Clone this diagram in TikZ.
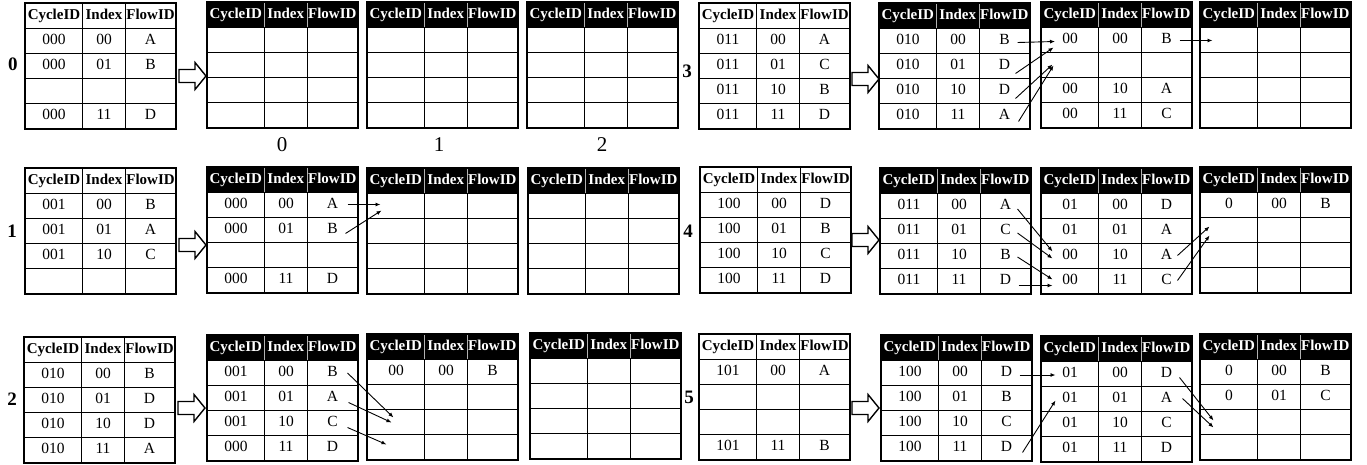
\documentclass[tikz,border=0pt]{standalone}
\usepackage{fontspec}
\setmainfont{Liberation Serif}
\usetikzlibrary{calc,arrows.meta}

\newcommand\hfont{\fontsize{15}{18}\selectfont\bfseries}
\newcommand\bfont{\fontsize{15.5}{18}\selectfont}

\tikzset{
  cellbase/.style={minimum height=25pt, inner sep=0pt, text height=10.5pt, text depth=3pt},
  hdrin/.style={cellbase, draw=black, line width=1pt, font=\hfont, text=black},
  hdrout/.style={cellbase, fill=black, draw=gray!60, line width=0.6pt, font=\hfont, text=white},
  tcell/.style={cellbase, draw=black, line width=1pt, font=\bfont},
  tframe/.style={draw=black, line width=1.3pt},
  blockarr/.style={draw=black, fill=white, line width=1.4pt, line join=miter},
  conn/.style={-{Latex[length=5pt,width=4pt]}, line width=0.9pt},
  sidelbl/.style={font=\fontsize{19}{22}\selectfont\bfseries, inner sep=0pt},
  botlbl/.style={font=\fontsize{21}{24}\selectfont, inner sep=0pt}
}

% a 3-column table: name, left x, top y, header kind (in|out), body rows r/cycle/index/flow
\newcommand\drawtable[5]{%
  \begin{scope}[shift={(#2,#3)}]
    \node[hdr#4, minimum width=57pt, anchor=north west] (#1-0-1) at (0,0) {CycleID};
    \node[hdr#4, minimum width=43pt, anchor=north west] (#1-0-2) at (57,0) {Index};
    \node[hdr#4, minimum width=50pt, anchor=north west] (#1-0-3) at (100,0) {FlowID};
    \foreach \r/\a/\b/\c in {#5} {
      \node[tcell, minimum width=57pt, anchor=north west] (#1-\r-1) at (0,25*\r) {\a};
      \node[tcell, minimum width=43pt, anchor=north west] (#1-\r-2) at (57,25*\r) {\b};
      \node[tcell, minimum width=50pt, anchor=north west] (#1-\r-3) at (100,25*\r) {\c};
    }
    \draw[tframe] (#1-0-1.north west) rectangle (#1-4-3.south east);
  \end{scope}%
}

% hollow block arrow: left x, centre y
\newcommand\hollowarrow[2]{%
  \draw[blockarr] (#1,#2-6.5) -- ++(16,0) -- ++(0,-7) -- (#1+27,#2)
    -- (#1+16,#2+13.5) -- ++(0,-7) -- (#1,#2+6.5) -- cycle;
}

\begin{document}
\begin{tikzpicture}[x=1pt,y=-1pt]
\path[use as bounding box, fill=white] (0,0) rectangle (1367,465);

% ---------- step 0 ----------
\node[sidelbl] (s0) at (13,64) {0};
\drawtable{p0in}{25}{3}{in}{1/000/00/A, 2/000/01/B, 3/{}/{}/{}, 4/000/11/D}
\hollowarrow{179}{76}
\drawtable{p0a}{207}{2}{out}{1/{}/{}/{}, 2/{}/{}/{}, 3/{}/{}/{}, 4/{}/{}/{}}
\drawtable{p0b}{367}{2}{out}{1/{}/{}/{}, 2/{}/{}/{}, 3/{}/{}/{}, 4/{}/{}/{}}
\drawtable{p0c}{527}{2}{out}{1/{}/{}/{}, 2/{}/{}/{}, 3/{}/{}/{}, 4/{}/{}/{}}
\node[botlbl] (b0) at (282,145) {0};
\node[botlbl] (b1) at (439,145) {1};
\node[botlbl] (b2) at (602,145) {2};

% ---------- step 3 ----------
\node[sidelbl] (s3) at (687,71) {3};
\drawtable{p3in}{699}{3}{in}{1/011/00/A, 2/011/01/C, 3/011/10/B, 4/011/11/D}
\hollowarrow{852}{79}
\drawtable{p3a}{879}{3}{out}{1/010/00/B, 2/010/01/D, 3/010/10/D, 4/010/11/A}
\drawtable{p3b}{1041}{2}{out}{1/00/00/B, 2/{}/{}/{}, 3/00/10/A, 4/00/11/C}
\drawtable{p3c}{1200}{2}{out}{1/{}/{}/{}, 2/{}/{}/{}, 3/{}/{}/{}, 4/{}/{}/{}}

% ---------- step 1 ----------
\node[sidelbl] (s1) at (12,231) {1};
\drawtable{p1in}{25}{168}{in}{1/001/00/B, 2/001/01/A, 3/001/10/C, 4/{}/{}/{}}
\hollowarrow{179}{245}
\drawtable{p1a}{207}{167}{out}{1/000/00/A, 2/000/01/B, 3/{}/{}/{}, 4/000/11/D}
\drawtable{p1b}{367}{168}{out}{1/{}/{}/{}, 2/{}/{}/{}, 3/{}/{}/{}, 4/{}/{}/{}}
\drawtable{p1c}{528}{168}{out}{1/{}/{}/{}, 2/{}/{}/{}, 3/{}/{}/{}, 4/{}/{}/{}}

% ---------- step 4 ----------
\node[sidelbl] (s4) at (688,231) {4};
\drawtable{p4in}{700}{167}{in}{1/100/00/D, 2/100/01/B, 3/100/10/C, 4/100/11/D}
\hollowarrow{852}{240}
\drawtable{p4a}{880}{168}{out}{1/011/00/A, 2/011/01/C, 3/011/10/B, 4/011/11/D}
\drawtable{p4b}{1041}{168}{out}{1/01/00/D, 2/01/01/A, 3/00/10/A, 4/00/11/C}
\drawtable{p4c}{1200}{167}{out}{1/0/00/B, 2/{}/{}/{}, 3/{}/{}/{}, 4/{}/{}/{}}

% ---------- step 2 ----------
\node[sidelbl] (s2) at (12,399) {2};
\drawtable{p2in}{24}{337}{in}{1/010/00/B, 2/010/01/D, 3/010/10/D, 4/010/11/A}
\hollowarrow{178}{408}
\drawtable{p2a}{207}{335}{out}{1/001/00/B, 2/001/01/A, 3/001/10/C, 4/000/11/D}
\drawtable{p2b}{367}{334}{out}{1/00/00/B, 2/{}/{}/{}, 3/{}/{}/{}, 4/{}/{}/{}}
\drawtable{p2c}{530}{333}{out}{1/{}/{}/{}, 2/{}/{}/{}, 3/{}/{}/{}, 4/{}/{}/{}}

% ---------- step 5 ----------
\node[sidelbl] (s5) at (689,397) {5};
\drawtable{p5in}{699}{334}{in}{1/101/00/A, 2/{}/{}/{}, 3/{}/{}/{}, 4/101/11/B}
\hollowarrow{852}{408}
\drawtable{p5a}{881}{335}{out}{1/100/00/D, 2/100/01/B, 3/100/10/C, 4/100/11/D}
\drawtable{p5b}{1041}{336}{out}{1/01/00/D, 2/01/01/A, 3/01/10/C, 4/01/11/D}
\drawtable{p5c}{1200}{334}{out}{1/0/00/B, 2/0/01/C, 3/{}/{}/{}, 4/{}/{}/{}}

% ---------- moves between tables ----------
% step 3
\draw[conn] ($(p3a-1-3.center)+(13,1.5)$) -- ($(p3b-1-1.center)+(-15,1.5)$);
\draw[conn] ($(p3a-2-3.center)+(11,7.5)$) -- ($(p3b-1-1.center)+(-16.5,7.5)$);
\draw[conn] ($(p3a-3-3.center)+(11,7.5)$) -- ($(p3b-2-1.center)+(-17.5,-0.5)$);
\draw[conn] ($(p3a-4-3.center)+(14,5.5)$) -- ($(p3b-2-1.center)+(-16.5,0.5)$);
\draw[conn] ($(p3b-1-3.center)+(13,0.5)$) -- ($(p3c-1-1.center)+(-16.5,0.5)$);
% step 1
\draw[conn] ($(p1a-1-3.center)+(15,-0.5)$) -- ($(p1b-1-1.center)+(-15.5,-1.5)$);
\draw[conn] ($(p1a-2-3.center)+(13,3.5)$) -- ($(p1b-1-1.center)+(-14.5,4.5)$);
% step 4
\draw[conn] ($(p4a-1-3.center)+(12,3)$) -- ($(p4b-3-1.center)+(-17.5,-4.5)$);
\draw[conn] ($(p4a-2-3.center)+(12,2)$) -- ($(p4b-3-1.center)+(-17.5,2.5)$);
\draw[conn] ($(p4a-3-3.center)+(12,1)$) -- ($(p4b-4-1.center)+(-17.5,-1.5)$);
\draw[conn] ($(p4a-4-3.center)+(13,4.5)$) -- ($(p4b-4-1.center)+(-17.5,4.5)$);
\draw[conn] ($(p4b-3-3.center)+(11,-0.5)$) -- ($(p4c-2-1.center)+(-19.5,-3.5)$);
\draw[conn] ($(p4b-4-3.center)+(11,-0.5)$) -- ($(p4c-2-1.center)+(-19.5,5.5)$);
% step 2
\draw[conn] ($(p2a-1-3.center)+(15,0)$) -- ($(p2b-3-1.center)+(-2.5,-4.5)$);
\draw[conn] ($(p2a-2-3.center)+(16,4.5)$) -- ($(p2b-3-1.center)+(-4.5,0.5)$);
\draw[conn] ($(p2a-3-3.center)+(15,4.5)$) -- ($(p2b-4-1.center)+(-9.5,-2.5)$);
% step 5
\draw[conn] ($(p5a-1-3.center)+(13,2)$) -- ($(p5b-1-1.center)+(-14.5,1)$);
\draw[conn] ($(p5a-4-3.center)+(16,4.5)$) -- ($(p5b-2-1.center)+(-14.5,1.5)$);
\draw[conn] ($(p5b-1-3.center)+(13,3.5)$) -- ($(p5c-3-1.center)+(-15.5,-1.5)$);
\draw[conn] ($(p5b-2-3.center)+(16,-0.5)$) -- ($(p5c-3-1.center)+(-15.5,5.5)$);
\end{tikzpicture}
\end{document}
